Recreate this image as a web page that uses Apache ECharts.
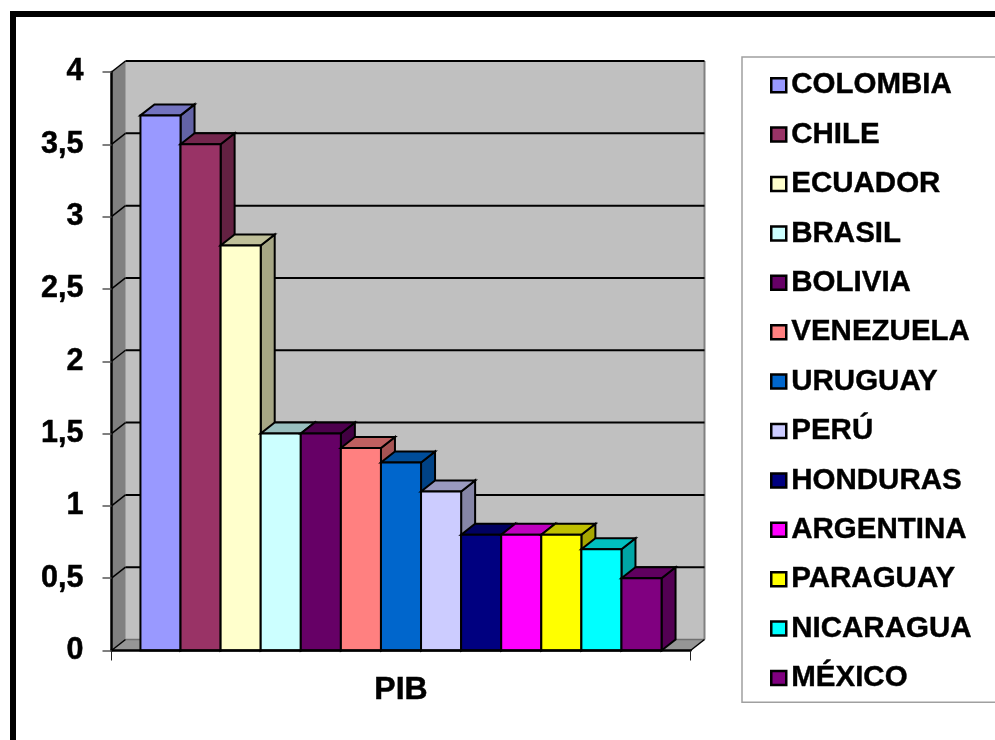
<!DOCTYPE html>
<html><head><meta charset="utf-8">
<style>html,body{margin:0;padding:0;background:#fff}#c{width:995px;height:740px}</style>
<script src="https://cdn.jsdelivr.net/npm/echarts@6/dist/echarts.min.js"></script>
</head><body><div id="c"></div>
<script>
const countries = ['COLOMBIA','CHILE','ECUADOR','BRASIL','BOLIVIA','VENEZUELA','URUGUAY','PERÚ','HONDURAS','ARGENTINA','PARAGUAY','NICARAGUA','MÉXICO'];
const pib = [3.7,3.5,2.8,1.5,1.5,1.4,1.3,1.1,0.8,0.8,0.8,0.7,0.5];
const colors = ['#9999FF','#993366','#FFFFCC','#CCFFFF','#660066','#FF8080','#0066CC','#CCCCFF','#000080','#FF00FF','#FFFF00','#00FFFF','#800080'];
const categories = ['PIB'];
const yTicks = [0,0.5,1,1.5,2,2.5,3,3.5,4];
const DX = 14, DY = -11;
const FONT = '"Liberation Sans", Arial, sans-serif';

function shade(hex, k){
  const n = parseInt(hex.slice(1),16);
  const c = [n>>16&255,n>>8&255,n&255].map(v=>Math.round(v*k));
  return 'rgb('+c.join(',')+')';
}
function poly(points, fill, stroke, lw){
  return {type:'polygon',shape:{points},style:{fill,stroke:stroke||'none',lineWidth:lw||0,lineJoin:'miter'}};
}
function seg(x1,y1,x2,y2,stroke,lw){
  return {type:'line',shape:{x1,y1,x2,y2},style:{stroke,lineWidth:lw}};
}
function walls(params, api){
  const g = params.coordSys, L=g.x, R=g.x+g.width;
  const y0 = api.coord([0,0])[1], yT = api.coord([0,yTicks[yTicks.length-1]])[1];
  const ch = [
    poly([[L+DX,yT+DY],[R+DX,yT+DY],[R+DX,y0+DY],[L+DX,y0+DY]],'#C0C0C0'),
    poly([[L,yT],[L+DX,yT+DY],[L+DX,y0+DY],[L,y0]],'#808080'),
    poly([[L,y0],[L+DX,y0+DY],[R+DX,y0+DY],[R,y0]],'#969696'),
    seg(L+DX,yT+DY,L+DX,y0+DY,'#A0A0A0',1),
    seg(R+DX,yT+DY,R+DX,y0+DY,'#808080',2),
    seg(L+DX,y0+DY,R+DX,y0+DY,'#707070',1.5),
    seg(R,y0,R+DX,y0+DY,'#000',1.5)
  ];
  yTicks.forEach(v=>{
    const y = api.coord([0,v])[1];
    if(v>0) ch.push(seg(L+DX,y+DY,R+DX,y+DY,'#000',2));
    ch.push(seg(L,y,L+DX,y+DY,'#000',1.5));
  });
  return {type:'group',children:ch};
}
function bar(i){
  return function(params, api){
    const c = api.coord([0,api.value(1)]), base = api.coord([0,0]);
    const w = api.size([1,0])[0]*0.9/countries.length;
    const x = c[0]+(i-countries.length/2)*w, y=c[1], x2=x+w, b=base[1];
    const col = colors[i];
    return {type:'group',children:[
      poly([[x2,y],[x2+DX,y+DY],[x2+DX,b+DY],[x2,b]],shade(col,.65),'#000',2),
      poly([[x,y],[x+DX,y+DY],[x2+DX,y+DY],[x2,y]],shade(col,.75),'#000',2),
      poly([[x,y],[x2,y],[x2,b],[x,b]],col,'#000',2)
    ]};
  };
}
const series = [{type:'custom',silent:true,data:[[0,0]],renderItem:walls,z:1,legendHoverLink:false,tooltip:{show:false}}]
 .concat(countries.map((name,i)=>({
   type:'custom',name,data:[[0,pib[i]]],renderItem:bar(i),z:2,
   itemStyle:{color:colors[i]},encode:{x:0,y:1}
 })));
const chart = echarts.init(document.getElementById('c'),null,{renderer:'canvas'});
chart.setOption({
  animation:false,
  backgroundColor:'#fff',
  grid:{left:111.5,right:304.5,top:72,bottom:89.5},
  xAxis:{type:'category',data:categories,z:5,
    axisLine:{lineStyle:{color:'#000',width:2.5}},
    axisTick:{show:true,alignWithLabel:false,length:10,lineStyle:{color:'#222',width:1}},
    axisLabel:{color:'#000',fontFamily:FONT,fontWeight:'bold',fontSize:32,margin:24,textBorderColor:'#000',textBorderWidth:0.5},
    splitLine:{show:false}},
  yAxis:{type:'value',min:0,max:4,interval:0.5,z:5,
    axisLine:{show:true,lineStyle:{color:'#000',width:2.5}},
    axisTick:{show:true,length:9,lineStyle:{color:'#555',width:1.5}},
    axisLabel:{color:'#000',fontFamily:FONT,fontWeight:'bold',fontSize:30.5,margin:28,textBorderColor:'#000',textBorderWidth:0.5,padding:[3,0,0,0],
      formatter:v=>String(v).replace('.',',')},
    splitLine:{show:false}},
  legend:{orient:'vertical',left:742,top:57,
    padding:[13,100,9,28],
    data:countries,icon:'rect',itemWidth:15,itemHeight:14,itemGap:19,
    borderColor:'#A0A0A0',borderWidth:1.5,backgroundColor:'#fff',
    itemStyle:{borderColor:'#000',borderWidth:2.5},
    textStyle:{color:'#000',fontFamily:FONT,fontWeight:'bold',fontSize:29.5,textBorderColor:'#000',textBorderWidth:0.4}},
  series,
  graphic:[
    {type:'rect',shape:{x:10,y:11,width:985,height:6},style:{fill:'#000'},silent:true,z:10},
    {type:'rect',shape:{x:10,y:11,width:6,height:729},style:{fill:'#000'},silent:true,z:10}
  ]
});
</script></body></html>
